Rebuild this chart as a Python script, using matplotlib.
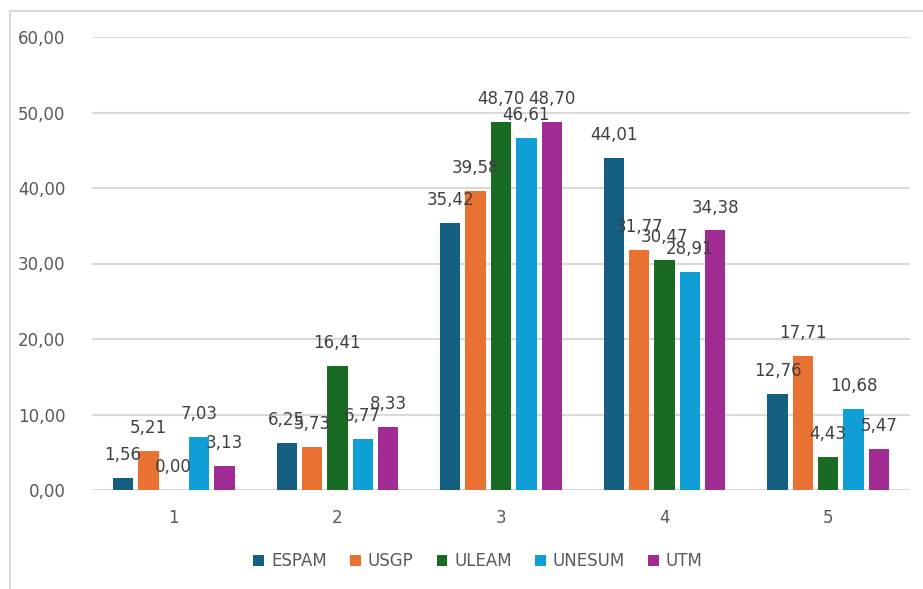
import numpy as np
import matplotlib.pyplot as plt
from matplotlib.patches import Rectangle

groups = ["1", "2", "3", "4", "5"]
series = ["ESPAM", "USGP", "ULEAM", "UNESUM", "UTM"]
espam = [1.56, 6.25, 35.42, 44.01, 12.76]
usgp = [5.21, 5.73, 39.58, 31.77, 17.71]
uleam = [0.00, 16.41, 48.70, 30.47, 4.43]
unesum = [7.03, 6.77, 46.61, 28.91, 10.68]
utm = [3.13, 8.33, 48.70, 34.38, 5.47]
yticks = [0, 10, 20, 30, 40, 50, 60]

colors = ["#156082", "#E97132", "#196B24", "#0F9ED5", "#A02B93"]
values = [espam, usgp, uleam, unesum, utm]

W, H = 923, 589
fig = plt.figure(figsize=(W / 100, H / 100), dpi=100)
ax = fig.add_axes([92 / W, (H - 490) / H, (910 - 92) / W, (490 - 37) / H])

x = np.arange(len(groups))
pitch = 0.155
width = 0.124
for i, (name, vals, c) in enumerate(zip(series, values, colors)):
    pos = x + (i - 2) * pitch
    bars = ax.bar(pos, vals, width=width, color=c, label=name, zorder=3)
    for b, v in zip(bars, vals):
        ax.annotate(f"{v:.2f}".replace(".", ","),
                    (b.get_x() + b.get_width() / 2, b.get_height()),
                    xytext=(0, 10), textcoords="offset points",
                    ha="center", va="bottom", fontsize=12, color="#404040", zorder=4)

ax.set_xlim(-0.5, 4.5)
ax.set_ylim(0, 60)
ax.set_yticks(yticks)
ax.set_yticklabels([f"{t:.2f}".replace(".", ",") for t in yticks])
ax.set_xticks(x)
ax.set_xticklabels(groups)
ax.tick_params(axis="both", length=0, labelsize=12, labelcolor="#595959")
ax.tick_params(axis="y", pad=19)
ax.tick_params(axis="x", pad=14)
ax.grid(axis="y", color="#D9D9D9", linewidth=1.5, zorder=0)
for s in ax.spines.values():
    s.set_visible(False)

fig.legend(loc="center", bbox_to_anchor=(478 / W, (H - 561) / H), ncol=5, frameon=False,
           fontsize=12, labelcolor="#595959", handlelength=0.65, handleheight=0.65,
           handletextpad=0.4, columnspacing=1.4)

fig.patches.append(Rectangle((10 / W, -0.1), 1.2, (H - 11) / H + 0.1,
                             transform=fig.transFigure, fill=False,
                             edgecolor="#D9D9D9", linewidth=1.5))

fig.savefig("out.png", dpi=100)
